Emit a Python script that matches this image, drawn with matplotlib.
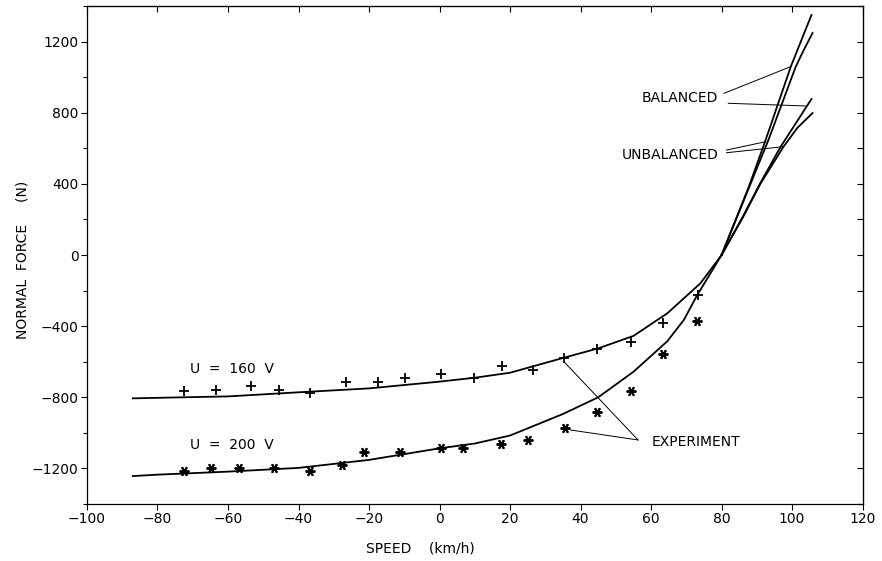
import numpy as np
import matplotlib.pyplot as plt
from matplotlib.ticker import MultipleLocator

# ----- Daten ----- #
# U = 160 V, gemeinsamer Teil der Kurven (unterhalb 80 km/h)
speed_160 = [-87, -80, -60, -40, -20, 0, 10, 20, 35, 45, 55, 64.6, 74, 80]
force_160 = [-806, -803, -795, -772, -750, -712, -690, -662, -579, -525, -455, -328, -159, 0]
# Aufspaltung oberhalb 80 km/h
speed_160_bal = [80, 86, 91, 96.7, 101, 105.5]
force_160_bal = [0, 214, 405, 607, 739, 877]
speed_160_unbal = [80, 86, 91, 97.5, 101.5, 105.8]
force_160_unbal = [0, 210, 400, 607, 715, 798]

# U = 200 V
speed_200 = [-87, -80, -60, -40, -20, 0, 10, 20, 35, 45, 48.5, 55.1, 64.6, 69.3, 73.1, 77.8, 80]
force_200 = [-1243, -1235, -1218, -1197, -1152, -1087, -1060, -1015, -894, -800, -750, -655,
             -485, -365, -225, -72, 0]
speed_200_bal = [80, 87.7, 92.5, 99.6, 103.4, 105.5]
force_200_bal = [0, 382, 647, 1057, 1246, 1349]
speed_200_unbal = [80, 87.7, 93.3, 101, 103.3, 105.8]
force_200_unbal = [0, 375, 647, 1057, 1152, 1248]

# Messpunkte
exp_speed_160 = [-72.5, -63.5, -53.4, -45.4, -36.6, -26.4, -17.5, -9.9, 0.5, 9.9,
                 17.6, 26.4, 35.3, 44.7, 54.4, 63.3, 73.4]
exp_force_160 = [-763, -759, -736, -761, -778, -716, -716, -693, -669, -693,
                 -624, -647, -581, -530, -487, -380, -225]
exp_speed_200 = [-72.5, -64.7, -56.9, -47, -36.6, -27.6, -21.5, -11.1, 0.3, 6.7,
                 17.4, 25.1, 35.5, 44.7, 54.4, 63.3, 73.1]
exp_force_200 = [-1212, -1196, -1196, -1199, -1212, -1179, -1110, -1110, -1087, -1087,
                 -1063, -1040, -975, -881, -763, -558, -371]

# ----- Plot ----- #
plt.rcParams['font.family'] = 'DejaVu Sans'
fig = plt.figure(figsize=(8.82, 5.61), dpi=100)
ax = fig.add_axes([0.0986, 0.1016, 0.8794, 0.8877])

lw = 1.3
ax.plot(speed_160, force_160, color='black', linewidth=lw)
ax.plot(speed_160_bal, force_160_bal, color='black', linewidth=lw)
ax.plot(speed_160_unbal, force_160_unbal, color='black', linewidth=lw)
ax.plot(speed_200, force_200, color='black', linewidth=lw)
ax.plot(speed_200_bal, force_200_bal, color='black', linewidth=lw)
ax.plot(speed_200_unbal, force_200_unbal, color='black', linewidth=lw)

# Messpunkte: "+" fuer 160 V, Stern fuer 200 V
ax.plot(exp_speed_160, exp_force_160, linestyle='none', marker='+', markersize=7,
        markeredgewidth=1.3, color='black')
ax.plot(exp_speed_200, exp_force_200, linestyle='none', marker=(6, 2, 90), markersize=7,
        markeredgewidth=1.4, color='black')

# Beschriftungen
fs = 10
ax.text(-70.9, -641, 'U  =  160  V', fontsize=fs, va='center', ha='left')
ax.text(-70.9, -1068, 'U  =  200  V', fontsize=fs, va='center', ha='left')
ax.text(79.1, 883, 'BALANCED', fontsize=fs, va='center', ha='right')
ax.text(79.1, 562, 'UNBALANCED', fontsize=fs, va='center', ha='right')
ax.text(60.1, -1051, 'EXPERIMENT', fontsize=fs, va='center', ha='left')

# Hinweislinien
llw = 0.7
ax.plot([80.7, 99.6], [909, 1059], color='black', linewidth=llw)
ax.plot([81.9, 103.8], [853, 838], color='black', linewidth=llw)
ax.plot([81.4, 92.5], [590, 637], color='black', linewidth=llw)
ax.plot([81.4, 97.5], [575, 609], color='black', linewidth=llw)
ax.plot([56.3, 35.3], [-1040, -600], color='black', linewidth=llw)
ax.plot([56.3, 37.2], [-1040, -984], color='black', linewidth=llw)

# Achsen
ax.set_xlim(-100, 120)
ax.set_ylim(-1400, 1400)
ax.xaxis.set_major_locator(MultipleLocator(20))
ax.yaxis.set_major_locator(MultipleLocator(400))
ax.yaxis.set_minor_locator(MultipleLocator(200))
ax.tick_params(axis='both', which='major', direction='out', length=4, width=0.8,
               labelsize=fs, pad=2)
ax.tick_params(axis='y', which='minor', direction='out', length=3, width=0.8)
ax.set_yticks([-1200, -800, -400, 0, 400, 800, 1200])
for sp in ax.spines.values():
    sp.set_linewidth(0.9)

top = ax.secondary_xaxis('top')
top.xaxis.set_major_locator(MultipleLocator(20))
top.tick_params(direction='in', length=4, width=0.8, labeltop=False)
right = ax.secondary_yaxis('right')
right.yaxis.set_major_locator(MultipleLocator(200))
right.tick_params(direction='in', length=4, width=0.8, labelright=False)

fig.text(0.477, 0.022, 'SPEED    (km/h)', fontsize=fs, ha='center', va='center')
fig.text(0.025, 0.537, 'NORMAL  FORCE     (N)', fontsize=fs, ha='center', va='center',
         rotation=90)

fig.savefig('out.png', dpi=100)
